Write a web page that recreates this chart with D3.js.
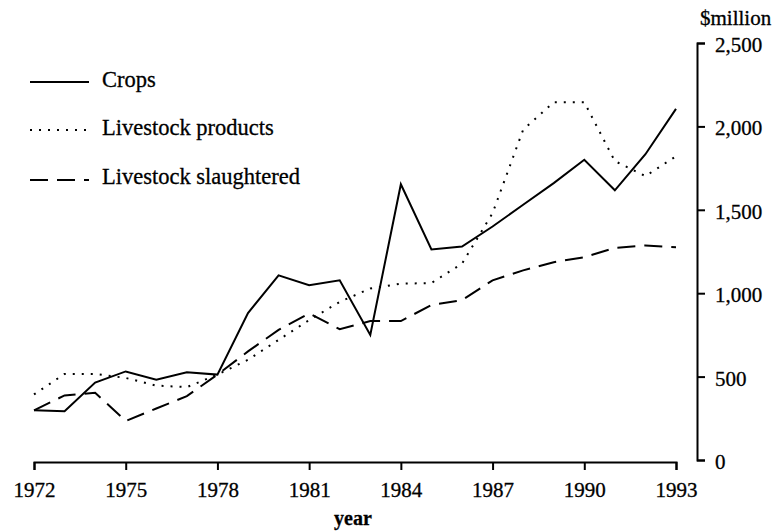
<!DOCTYPE html>
<html>
<head>
<meta charset="utf-8">
<script src="https://cdn.jsdelivr.net/npm/d3@7"></script>
<style>
  body { margin: 0; background: #fff; }
  text { font-family: "Liberation Serif", "DejaVu Serif", serif; fill: #000; stroke: #000; stroke-width: 0.3px; }
</style>
</head>
<body>
<svg></svg>
<script>
  // values, $million
  let years = d3.range(1972, 1994)
  let crops = [298, 293, 464, 531, 482, 526, 512, 881, 1107, 1048, 1077, 750, 1653, 1262, 1280, 1400, 1530, 1660, 1800, 1617, 1833, 2105]
  let livestockProducts = [393, 516, 516, 492, 446, 437, 512, 601, 720, 839, 948, 1028, 1057, 1061, 1177, 1480, 1980, 2145, 2145, 1792, 1702, 1821]
  let livestockSlaughtered = [298, 387, 403, 234, 309, 383, 512, 651, 780, 879, 784, 833, 833, 929, 958, 1077, 1137, 1186, 1216, 1272, 1286, 1276]
  let xTicks = [1972, 1975, 1978, 1981, 1984, 1987, 1990, 1993]
  let yTicks = [0, 500, 1000, 1500, 2000, 2500]

  let series = [
    { name: 'Crops', values: crops, dash: null },
    { name: 'Livestock products', values: livestockProducts, dash: '2,7' },
    { name: 'Livestock slaughtered', values: livestockSlaughtered, dash: '18,9' }
  ]

  let svgWidth = 781, svgHeight = 531

  let svg = d3.select('svg')
    .attr('width', svgWidth)
    .attr('height', svgHeight)

  let x = d3.scaleLinear().domain([1972, 1993]).range([34, 676])
  let y = d3.scaleLinear().domain([0, 2500]).range([460, 43])

  // x axis, sits a little below zero
  let xAxis = svg.append('g')
    .attr('transform', 'translate(0,462)')
    .call(d3.axisBottom(x).tickValues(xTicks).tickFormat(d3.format('d')).tickSize(8).tickPadding(12))
  xAxis.selectAll('text').style('font-size', '21px')
  xAxis.selectAll('path, line').attr('stroke', '#000').attr('stroke-width', 2)

  // y axis on the right, ticks pointing outward
  let yAxis = svg.append('g')
    .attr('transform', 'translate(697,0)')
    .call(d3.axisRight(y).tickValues(yTicks).tickFormat(d3.format(',')).tickSize(8).tickPadding(10))
  yAxis.selectAll('text').style('font-size', '21px').attr('dy', '0.4em')
  yAxis.selectAll('path, line').attr('stroke', '#000').attr('stroke-width', 2)

  svg.append('text')
    .attr('x', 700)
    .attr('y', 25)
    .style('font-size', '21px')
    .text('$million')

  svg.append('text')
    .attr('x', 353)
    .attr('y', 525)
    .attr('text-anchor', 'middle')
    .style('font-size', '20px')
    .style('font-weight', 'bold')
    .text('year')

  let line = d3.line()
    .x(function (d, i) { return x(years[i]) })
    .y(function (d) { return y(d) })

  svg.selectAll('.series')
    .data(series)
    .enter()
    .append('path')
    .attr('class', 'series')
    .attr('d', function (d) { return line(d.values) })
    .attr('fill', 'none')
    .attr('stroke', '#000')
    .attr('stroke-width', 2)
    .attr('stroke-dasharray', function (d) { return d.dash })

  // legend
  let legend = svg.selectAll('.legend')
    .data(series)
    .enter()
    .append('g')
    .attr('class', 'legend')
    .attr('transform', function (d, i) {
      return `translate(0,${[82, 130, 180][i]})`
    })

  legend.append('line')
    .attr('x1', 30).attr('x2', 89)
    .attr('stroke', '#000')
    .attr('stroke-width', 2)
    .attr('stroke-dasharray', function (d) { return d.dash })

  legend.append('text')
    .attr('x', 102)
    .attr('y', function (d, i) { return [5, 5, 4][i] })
    .style('font-size', '22.5px')
    .text(function (d) { return d.name })
</script>
</body>
</html>
